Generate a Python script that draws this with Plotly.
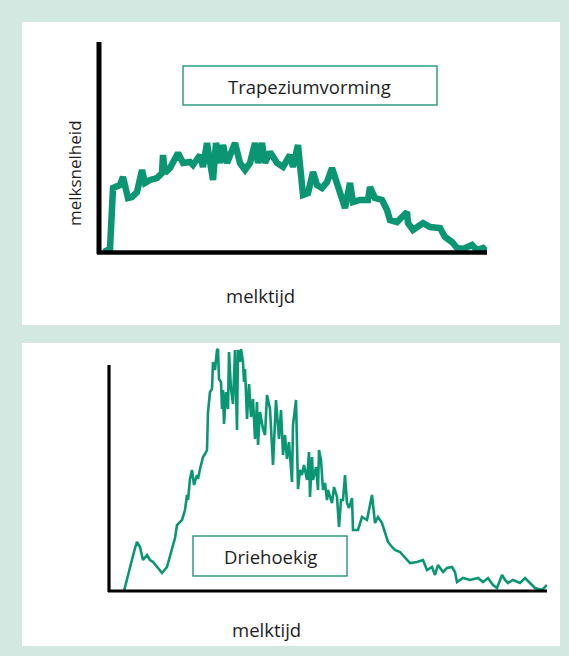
import plotly.graph_objects as go

W, H = 569, 656

# ---------------- data ----------------
# Top chart: "Trapeziumvorming" (time, milk flow rate)
trap_time = [5, 11, 14, 21, 24, 26, 29, 33, 38, 43, 46, 51, 58, 63, 64, 66, 71, 79, 84, 91,
             94, 101, 104, 108, 111, 114, 117, 121, 124, 128, 136, 141, 146, 151, 156, 159,
             163, 166, 171, 178, 184, 191, 194, 199, 204, 209, 214, 218, 223, 228, 233, 238,
             246, 251, 254, 261, 269, 271, 276, 283, 288, 291, 298, 308, 309, 314, 319, 324,
             331, 341, 346, 353, 358, 364, 373, 378, 384, 388]
trap_flow = [1, 4, 65, 68, 76, 65, 55, 56, 61, 83, 70, 73, 75, 80, 98, 80, 85, 100, 90, 91,
             88, 98, 86, 110, 90, 73, 110, 90, 108, 90, 110, 90, 83, 90, 110, 90,
             110, 90, 101, 90, 86, 98, 86, 108, 58, 60, 81, 68, 65, 71, 85, 68,
             45, 70, 51, 53, 53, 66, 55, 53, 43, 33, 31, 41, 30, 23, 26, 30,
             26, 25, 16, 11, 5, 4, 8, 3, 5, 1]

# Bottom chart: "Driehoekig" (time, milk flow rate)
drie_time = [15, 19, 23, 26, 28, 31, 34, 38, 41, 44, 49, 53, 58, 63, 66, 68, 73, 76, 78, 79,
             81, 83, 85, 88, 89, 91, 94, 96, 98, 99, 101, 103, 104, 106, 108, 109, 110, 112,
             113, 114, 115, 117, 119, 120, 122, 124, 126, 128, 129, 131, 132, 134, 135, 136,
             138, 140, 142, 144, 146, 148, 149, 151, 154, 156, 158, 161, 164, 167, 170, 172,
             174, 176, 178, 180, 183, 184, 187, 189, 191, 193, 195, 198, 200, 201, 203, 204,
             207, 209, 210, 212, 214, 216, 218, 219, 223, 225, 228, 230, 232, 234, 236, 238,
             240, 243, 244, 249, 253, 258, 263, 266, 269, 273, 276, 279, 283, 286, 291, 294,
             301, 308, 314, 318, 323, 326, 329, 334, 338, 343, 346, 348, 354, 361, 369, 374,
             379, 384, 388, 393, 396, 399, 404, 411, 416, 421, 426, 433, 438]
drie_flow = [0, 16, 34, 43, 49, 44, 31, 36, 31, 29, 23, 18, 24, 41, 53, 66, 71, 81, 96, 91,
             112, 121, 106, 116, 112, 122, 134, 137, 141, 179, 199, 202, 229, 221, 241, 242, 212, 209,
             182, 201, 167, 199, 182, 239, 202, 187, 241, 161, 241, 229, 242, 229, 209, 222,
             172, 207, 174, 192, 152, 189, 146, 179, 162, 156, 196, 182, 126, 191, 152, 181,
             136, 156, 132, 149, 109, 166, 191, 102, 121, 116, 126, 111, 139, 94, 134, 111,
             124, 101, 141, 131, 101, 108, 91, 101, 88, 104, 94, 64, 91, 91, 116, 88,
             83, 93, 61, 61, 74, 71, 96, 68, 74, 68, 58, 49, 44, 41, 39, 36,
             28, 29, 31, 21, 24, 16, 26, 19, 23, 24, 19, 9, 13, 11, 13, 9,
             13, 6, 3, 16, 11, 8, 11, 8, 13, 8, 3, 1, 6]

panel_titles = ["Trapeziumvorming", "Driehoekig"]
y_title = "melksnelheid"
x_title = "melktijd"

# ---------------- styling helpers ----------------
GREEN = "#0b9673"
BOXC = "#2f9e83"
MINT = "#d3e8e1"
FONT = "'Open Sans', Lato, sans-serif"


def px(x):
    return x / W


def py(y):
    return 1 - y / H


fig = go.Figure()

fig.add_trace(go.Scatter(x=trap_time, y=trap_flow, mode="lines",
                         line=dict(color=GREEN, width=6.5, shape="linear"),
                         xaxis="x", yaxis="y", showlegend=False, hoverinfo="skip"))
fig.add_trace(go.Scatter(x=drie_time, y=drie_flow, mode="lines",
                         line=dict(color=GREEN, width=2.6),
                         xaxis="x2", yaxis="y2", showlegend=False, hoverinfo="skip"))

hidden = dict(showgrid=False, zeroline=False, showticklabels=False, ticks="",
              showline=False, fixedrange=True)

shapes = [
    # white panels
    dict(type="rect", xref="paper", yref="paper", x0=px(22), x1=px(560), y0=py(325), y1=py(22),
         fillcolor="white", line=dict(width=0), layer="below"),
    dict(type="rect", xref="paper", yref="paper", x0=px(22), x1=px(560), y0=py(646), y1=py(343),
         fillcolor="white", line=dict(width=0), layer="below"),
    # top axes
    dict(type="line", xref="paper", yref="paper", x0=px(99), x1=px(99), y0=py(254), y1=py(42),
         line=dict(color="black", width=5)),
    dict(type="line", xref="paper", yref="paper", x0=px(97), x1=px(487), y0=py(252.5), y1=py(252.5),
         line=dict(color="black", width=4.5)),
    # bottom axes
    dict(type="line", xref="paper", yref="paper", x0=px(109), x1=px(109), y0=py(592), y1=py(365),
         line=dict(color="black", width=3.2)),
    dict(type="line", xref="paper", yref="paper", x0=px(108), x1=px(547), y0=py(591), y1=py(591),
         line=dict(color="black", width=3)),
    # label boxes
    dict(type="rect", xref="paper", yref="paper", x0=px(183), x1=px(437), y0=py(105), y1=py(66),
         line=dict(color=BOXC, width=1.5), fillcolor="white"),
    dict(type="rect", xref="paper", yref="paper", x0=px(193), x1=px(347), y0=py(576), y1=py(536),
         line=dict(color=BOXC, width=1.5), fillcolor="white", layer="above"),
]

hfont = dict(family=FONT, size=18.5, color="#1e1e1e")
vfont = dict(family=FONT, size=17, color="#1e1e1e")
annotations = [
    dict(text=panel_titles[0], x=px(309), y=py(86), xref="paper", yref="paper",
         showarrow=False, font=hfont, xanchor="center", yanchor="middle"),
    dict(text=panel_titles[1], x=px(270), y=py(556), xref="paper", yref="paper",
         showarrow=False, font=hfont, xanchor="center", yanchor="middle"),
    dict(text=y_title, x=px(75), y=py(173), xref="paper", yref="paper", textangle=-90,
         showarrow=False, font=vfont, xanchor="center", yanchor="middle"),
    dict(text=x_title, x=px(260), y=py(295), xref="paper", yref="paper",
         showarrow=False, font=hfont, xanchor="center", yanchor="middle"),
    dict(text=x_title, x=px(266), y=py(629), xref="paper", yref="paper",
         showarrow=False, font=hfont, xanchor="center", yanchor="middle"),
]

fig.update_layout(
    width=W, height=H,
    margin=dict(l=0, r=0, t=0, b=0),
    paper_bgcolor=MINT,
    plot_bgcolor="rgba(0,0,0,0)",
    xaxis=dict(domain=[px(99), px(487)], range=[0, 388], anchor="y", **hidden),
    yaxis=dict(domain=[py(253), py(42)], range=[0, 211], anchor="x", **hidden),
    xaxis2=dict(domain=[px(109), px(547)], range=[0, 438], anchor="y2", **hidden),
    yaxis2=dict(domain=[py(591), py(343)], range=[0, 248], anchor="x2", **hidden),
    shapes=shapes,
    annotations=annotations,
)

fig.write_html("out.html",
               config={"displayModeBar": False},
               post_script="document.body.style.margin='0px';"
                           "document.body.style.overflow='hidden';"
                           "document.body.style.background='" + MINT + "';")
